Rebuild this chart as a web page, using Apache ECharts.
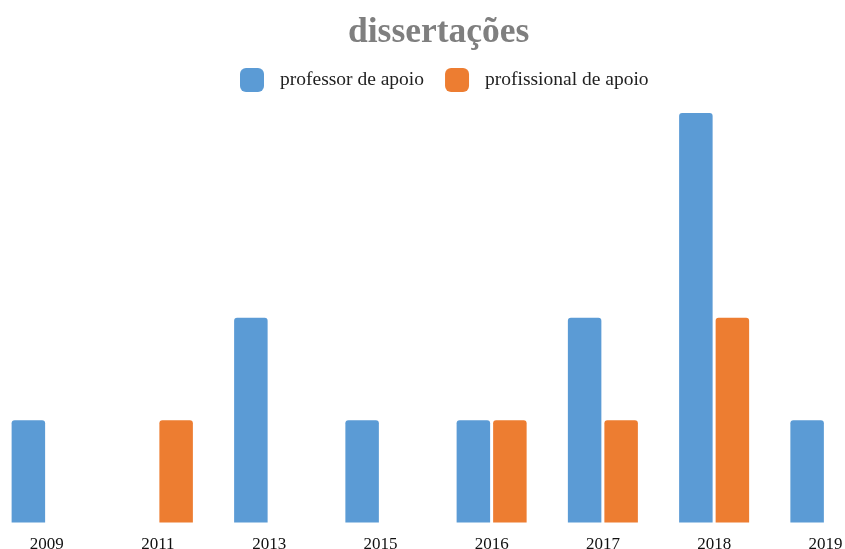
<!DOCTYPE html>
<html>
<head>
<meta charset="utf-8">
<script src="https://cdn.jsdelivr.net/npm/echarts@6/dist/echarts.min.js"></script>
<style>html,body{margin:0;padding:0;background:#fff}#c{width:845px;height:549px}</style>
</head>
<body>
<div id="c"></div>
<script>
const categories = ['2009', '2011', '2013', '2015', '2016', '2017', '2018', '2019'];
const professorDeApoio = [1, 0, 2, 1, 1, 2, 4, 1];
const profissionalDeApoio = [0, 1, 0, 0, 1, 1, 2, 0];

const chart = echarts.init(document.getElementById('c'));
chart.setOption({
  animation: false,
  title: {
    text: 'dissertações',
    left: 343,
    top: 10,
    textStyle: { fontFamily: 'Liberation Serif', fontWeight: 'bold', fontSize: 35.5, color: '#7f7f7f' }
  },
  legend: {
    top: 63,
    left: 235,
    itemWidth: 24,
    itemHeight: 24,
    itemGap: 21,
    textStyle: { fontFamily: 'Liberation Serif', fontSize: 19.5, color: '#222', padding: [0, 0, 0, 11] },
    data: [
      { name: 'professor de apoio', icon: 'roundRect' },
      { name: 'profissional de apoio', icon: 'roundRect' }
    ]
  },
  grid: { left: -9, width: 890, top: 113, bottom: 26.5, outerBoundsMode: 'none', containLabel: false },
  xAxis: {
    type: 'category',
    data: categories,
    axisLine: { show: false },
    axisTick: { show: false },
    axisLabel: { fontFamily: 'Liberation Serif', fontSize: 17, color: '#111', margin: 14 }
  },
  yAxis: {
    type: 'value',
    min: 0,
    max: 4,
    interval: 1,
    show: false,
    splitLine: { show: false }
  },
  series: [
    {
      name: 'professor de apoio',
      type: 'bar',
      data: professorDeApoio,
      barWidth: 33.5,
      barGap: '9%',
      itemStyle: { color: '#5B9BD5', borderRadius: [3, 3, 0, 0] }
    },
    {
      name: 'profissional de apoio',
      type: 'bar',
      data: profissionalDeApoio,
      barWidth: 33.5,
      barGap: '9%',
      itemStyle: { color: '#ED7D31', borderRadius: [3, 3, 0, 0] }
    }
  ]
});
</script>
</body>
</html>
